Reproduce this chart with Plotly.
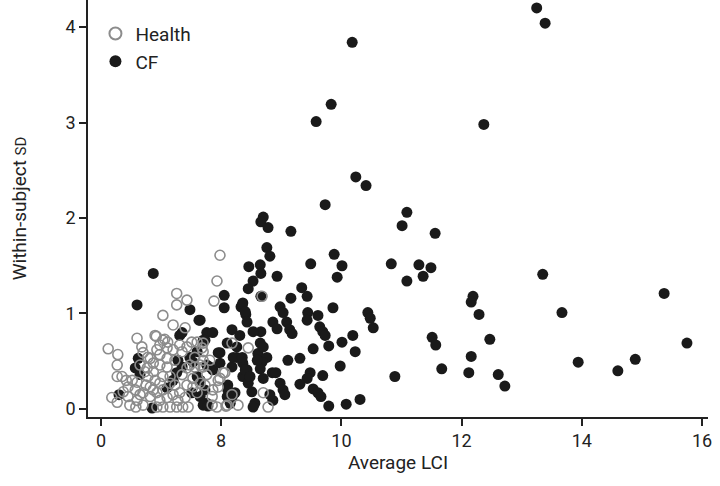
import plotly.graph_objects as go

# Average LCI (x) and within-subject SD (y)
cf_x = [13.25, 13.39, 10.18, 9.83, 9.58, 12.37, 10.24, 10.41, 9.73, 11.09, 11.01, 11.56,
        8.70, 8.66, 8.78, 9.16, 8.76, 8.81, 9.49, 9.88, 10.01, 9.93, 10.83, 11.29, 11.49,
        11.36, 11.09, 12.19, 12.16, 12.29, 13.35, 13.67, 11.51, 11.57, 12.47, 12.16, 11.67,
        10.89, 12.12, 12.61, 12.72, 13.94, 14.60, 14.89, 15.37, 15.75,
        8.46, 8.65, 8.66, 8.93, 8.53, 8.45, 8.05, 8.05, 8.36, 8.33, 8.66, 9.16, 9.34, 9.43,
        8.98, 9.03, 8.86, 9.09, 8.93, 9.44, 9.43, 9.61, 9.86, 10.44, 10.48, 10.53, 8.41,
        8.43, 9.14, 9.18, 8.66, 8.18, 8.31, 8.10, 7.65, 9.64, 9.69, 9.73, 10.19, 10.01,
        10.23, 9.79, 9.53, 9.98, 9.31, 9.11, 9.48, 9.43, 9.31, 9.69, 9.53, 9.61, 9.66,
        9.79, 10.08, 10.31, 8.26, 8.26, 8.18, 8.36, 8.43, 8.36, 8.45, 8.51, 8.56, 8.53,
        8.61, 8.76, 8.68, 8.65, 8.70, 8.85, 8.91, 8.98, 9.03, 9.06, 8.86, 8.81, 8.11, 8.11,
        8.18, 8.15, 7.76, 7.86, 7.70, 7.98, 7.98, 7.81, 7.86, 7.65, 7.73, 7.76, 7.65,
        6.87, 6.60, 6.30, 6.85, 6.62, 6.57, 6.65, 7.48, 7.63, 8.35, 8.40, 8.53, 7.73, 7.95,
        8.20, 8.35, 7.60, 7.48, 7.53, 7.31, 7.28, 7.35, 7.26, 7.76, 7.60, 8.23, 8.10, 7.70,
        7.78, 7.51, 7.20, 7.10, 8.40, 8.48, 8.60, 8.65, 7.35, 8.70]
cf_y = [4.20, 4.04, 3.84, 3.19, 3.01, 2.98, 2.43, 2.34, 2.14, 2.06, 1.92, 1.84,
        2.01, 1.96, 1.90, 1.86, 1.69, 1.60, 1.52, 1.62, 1.50, 1.38, 1.52, 1.51, 1.48,
        1.39, 1.34, 1.18, 1.12, 0.99, 1.41, 1.01, 0.75, 0.67, 0.73, 0.55, 0.42,
        0.34, 0.38, 0.36, 0.24, 0.49, 0.40, 0.52, 1.21, 0.69,
        1.49, 1.51, 1.42, 1.39, 1.34, 1.26, 1.19, 1.06, 1.11, 1.07, 1.18, 1.16, 1.27, 1.18,
        1.07, 1.01, 0.91, 0.91, 0.84, 1.01, 0.93, 0.98, 1.06, 1.01, 0.95, 0.85, 0.99,
        0.91, 0.83, 0.79, 0.81, 0.83, 0.77, 0.69, 0.93, 0.86, 0.81, 0.77, 0.77, 0.70,
        0.60, 0.66, 0.63, 0.45, 0.53, 0.51, 0.38, 0.32, 0.26, 0.35, 0.21, 0.17, 0.13,
        0.03, 0.05, 0.10, 0.65, 0.54, 0.44, 0.48, 0.41, 0.34, 0.27, 0.18, 0.06, 0.02,
        0.58, 0.54, 0.49, 0.42, 0.32, 0.38, 0.38, 0.27, 0.20, 0.15, 0.09, 0.15, 0.25, 0.20,
        0.12, 0.06, 0.80, 0.80, 0.72, 0.59, 0.48, 0.44, 0.41, 0.30, 0.20, 0.06, 0.13,
        1.42, 1.09, 0.15, 0.01, 0.53, 0.43, 0.36, 1.04, 0.93, 1.09, 1.02, 0.81, 0.72, 0.59,
        0.54, 0.54, 0.60, 0.54, 0.49, 0.77, 0.51, 0.44, 0.38, 0.46, 0.34, 0.17, 0.13, 0.04,
        0.03, 0.17, 0.30, 0.22, 0.41, 0.34, 0.51, 0.69, 0.80, 0.65]

health_x = [7.98, 7.93, 7.88, 8.45, 8.06, 7.98, 7.95, 8.70, 8.78, 7.93, 8.08, 8.18, 7.70,
            7.70, 7.70, 7.70, 8.68, 6.12, 6.28, 6.27, 6.27, 6.35, 6.42, 6.52, 6.60, 6.27,
            6.45, 6.57, 6.45, 6.60, 6.70, 6.48, 6.58, 6.60, 6.68, 6.70, 6.82, 6.87, 6.77,
            6.87, 6.78, 6.90, 6.98, 6.82, 6.70, 6.82, 6.93, 6.98, 6.93, 7.03, 7.15, 7.26,
            7.36, 7.45, 7.03, 7.20, 7.26, 7.26, 7.43, 7.40, 6.90, 7.03, 7.11, 6.98, 7.10,
            6.93, 6.98, 7.10, 6.98, 7.10, 7.15, 7.03, 7.15, 7.03, 7.20, 7.10, 7.31, 7.35,
            7.43, 7.51, 7.60, 7.68, 7.48, 7.43, 7.56, 7.65, 7.53, 7.53, 7.65, 7.60, 7.81,
            7.76, 7.85, 8.10, 8.03, 7.95, 6.92, 7.06,
            6.18, 6.37, 6.65, 6.75, 6.87, 6.73, 6.65, 6.78, 7.23, 7.28, 7.40, 7.43, 7.35,
            7.23, 7.73, 7.86, 7.85, 8.18, 8.28, 7.56, 7.20, 7.31]
health_y = [1.61, 1.34, 1.13, 0.64, 0.38, 0.32, 0.23, 0.17, 0.02, 0.02, 0.03, 0.69, 0.69,
            0.60, 0.51, 0.44, 1.18, 0.63, 0.57, 0.46, 0.34, 0.34, 0.30, 0.30, 0.28, 0.07,
            0.23, 0.20, 0.13, 0.09, 0.04, 0.04, 0.02, 0.74, 0.65, 0.59, 0.53, 0.48, 0.43,
            0.39, 0.34, 0.30, 0.27, 0.23, 0.17, 0.13, 0.17, 0.09, 0.02, 0.02, 0.02, 0.02,
            0.02, 0.02, 0.98, 0.88, 1.21, 1.09, 1.14, 0.85, 0.77, 0.72, 0.70, 0.67, 0.64,
            0.62, 0.57, 0.53, 0.46, 0.44, 0.34, 0.34, 0.27, 0.20, 0.15, 0.12, 0.17, 0.60,
            0.65, 0.70, 0.70, 0.64, 0.46, 0.43, 0.44, 0.46, 0.32, 0.23, 0.27, 0.17, 0.51,
            0.36, 0.13, 0.04, 0.38, 0.30, 0.76, 0.73,
            0.12, 0.18, 0.15, 0.25, 0.20, 0.39, 0.46, 0.54, 0.25, 0.09, 0.12, 0.25, 0.36,
            0.51, 0.25, 0.20, 0.04, 0.15, 0.04, 0.54, 0.62, 0.67]

x_tickvals = [6, 8, 10, 12, 14, 16]
x_ticktext = ["0", "8", "10", "12", "14", "16"]
y_tickvals = [0, 1, 2, 3, 4]

FONT = "Roboto, 'Liberation Sans', sans-serif"
TXT = "#222222"

fig = go.Figure()
fig.add_trace(go.Scatter(
    x=cf_x, y=cf_y, mode="markers", name="CF",
    marker=dict(symbol="circle", size=11, color="#1a1a1a", line=dict(width=0)),
))
fig.add_trace(go.Scatter(
    x=health_x, y=health_y, mode="markers", name="Health",
    marker=dict(symbol="circle-open", size=10, color="#8c8c8c", line=dict(width=1.6)),
))

fig.update_layout(
    width=720, height=486,
    margin=dict(l=88, r=12, t=0, b=69),
    paper_bgcolor="white", plot_bgcolor="white",
    font=dict(family=FONT, size=18, color=TXT),
    showlegend=True,
    legend=dict(x=0.012, y=0.965, xanchor="left", yanchor="top",
                traceorder="reversed", font=dict(size=19, color=TXT),
                bgcolor="rgba(0,0,0,0)", itemsizing="constant"),
    xaxis=dict(range=[5.784, 16.10], tickvals=x_tickvals, ticktext=x_ticktext,
               automargin=False,
               showgrid=False, zeroline=False, showline=True, linecolor=TXT,
               linewidth=1.5, ticks="outside", ticklen=7, tickwidth=1.5, tickcolor=TXT,
               tickfont=dict(size=18, color=TXT),
               title=dict(text="Average LCI", font=dict(size=19, color=TXT), standoff=4)),
    yaxis=dict(range=[-0.084, 4.283], tickvals=y_tickvals,
               automargin=False,
               showgrid=False, zeroline=False, showline=True, linecolor=TXT,
               linewidth=1.5, ticks="outside", ticklen=7, tickwidth=1.5, tickcolor=TXT,
               tickfont=dict(size=18, color=TXT),
               title=dict(text="Within-subject <span style='font-size:15px'>SD</span>",
                          font=dict(size=19, color=TXT), standoff=34)),
)

fig.write_html("out.html", config={"displayModeBar": False},
               post_script="document.body.style.margin='0';")
